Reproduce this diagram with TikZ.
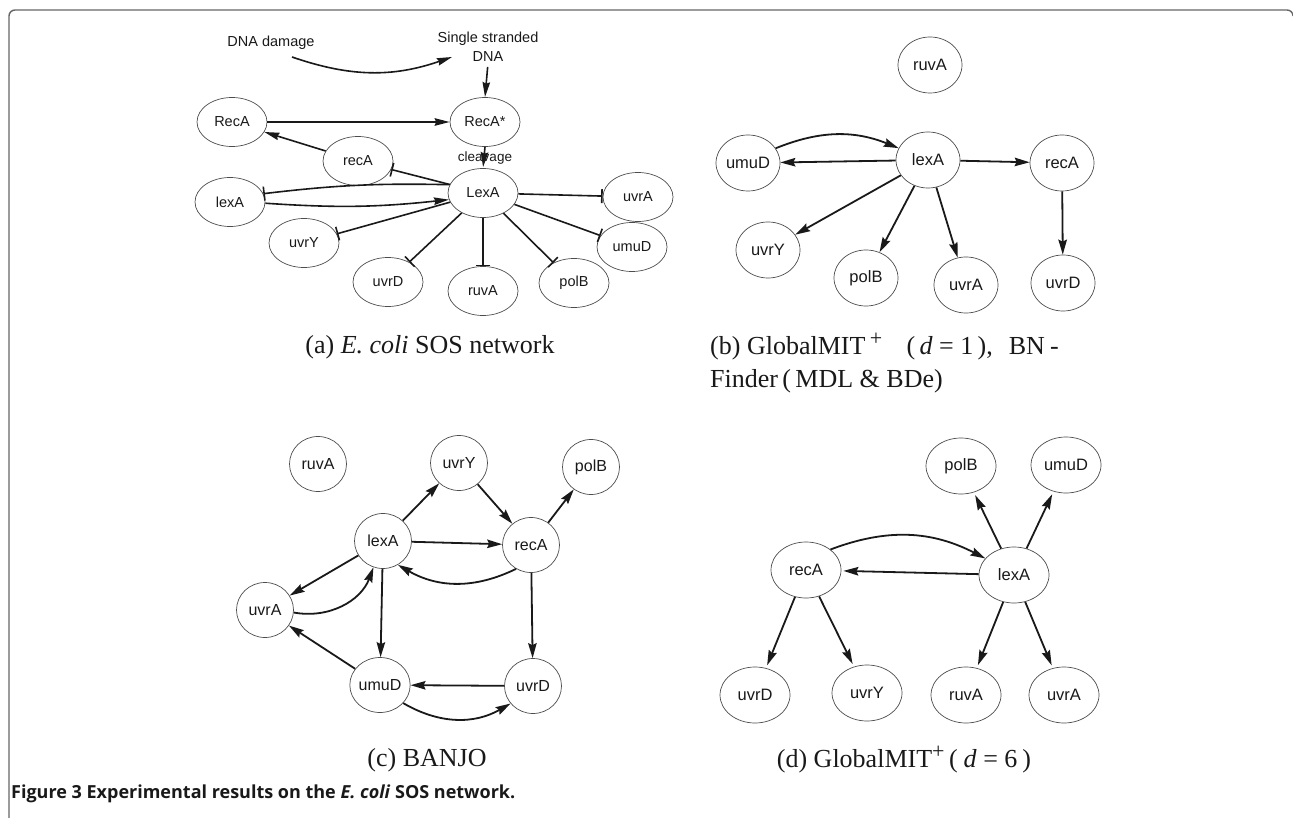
\documentclass[tikz,border=0pt]{standalone}
\usepackage{fontspec}
\setmainfont{Liberation Serif}
\setsansfont{Liberation Sans}
\newfontfamily\figcapfont{Open Sans}
\usetikzlibrary{arrows.meta,shapes.geometric}

\tikzset{
  gene/.style={ellipse, draw=black!70, line width=0.7pt, inner sep=0pt, text=black!90},
  anode/.style={gene, minimum width=70pt, minimum height=49pt, font=\sffamily\fontsize{14.5}{16}\selectfont},
  bnode/.style={gene, minimum width=64pt, minimum height=56pt, font=\sffamily\fontsize{16.5}{18}\selectfont},
  cnode/.style={gene, minimum width=57pt, minimum height=55pt, font=\sffamily\fontsize{16}{18}\selectfont},
  dnode/.style={gene, minimum width=70pt, minimum height=56pt, font=\sffamily\fontsize{16.5}{18}\selectfont},
  plain/.style={font=\sffamily\fontsize{14.5}{19}\selectfont, text=black!90, inner sep=1pt},
  act/.style={line width=1.8pt, draw=black!90, -{Stealth[length=15pt,width=8.5pt,inset=2pt]}},
  acta/.style={line width=1.6pt, draw=black!90, -{Stealth[length=15pt,width=7.5pt,inset=1.5pt]}},
  inh/.style={line width=1.6pt, draw=black!90, -{Bar[width=14pt]}},
  sub/.style={font=\fontsize{26}{34}\selectfont, text=black!90, inner sep=0pt},
}
\newcommand{\supplus}{\textsuperscript{\fontsize{22}{22}\selectfont +}}

\begin{document}
\begin{tikzpicture}[x=1pt,y=1pt]
\useasboundingbox (0,0) rectangle (1293,-818);

% outer frame, open at the bottom
\draw[black!60, line width=1.4pt] (9,-818) -- (9,-16) arc[start angle=180,end angle=90,radius=6]
  -- (1287,-10) arc[start angle=90,end angle=0,radius=6];

% ---------------- (a) E. coli SOS network ----------------
\node[plain] (dmg) at (271,-43) {DNA damage};
\node[plain, align=center] (ss) at (488,-47) {Single stranded\\DNA};
\coordinate (dmgout) at (292,-57);
\coordinate (ssin) at (452,-57);
\draw[acta] (dmgout) to[bend right=19] (ssin);

\node[anode] (RecA) at (232,-122) {RecA};
\node[anode] (RecAs) at (485,-122) {RecA*};
\node[anode] (recAa) at (358,-161) {recA};
\node[anode] (LexA) at (483,-193) {LexA};
\node[anode] (lexAa) at (230,-202) {lexA};
\node[anode] (uvrAa) at (638,-197) {uvrA};
\node[anode] (umuDa) at (632,-247) {umuD};
\node[anode] (uvrYa) at (304,-243) {uvrY};
\node[anode] (uvrDa) at (388,-282) {uvrD};
\node[anode] (ruvAa) at (483,-291) {ruvA};
\node[anode] (polBa) at (574,-283) {polB};
\node[plain, font=\sffamily\fontsize{13.5}{15}\selectfont] (clv) at (485,-158) {cleavage};

\draw[acta, shorten <=4pt] (ss.south) -- (RecAs.north);
\draw[acta] (RecA) -- (RecAs);
\draw[acta] (recAa) -- (RecA);
\draw[acta, shorten >=1pt] (RecAs.south) -- (LexA.north);
\draw[inh] (LexA) -- (recAa);
\draw[inh] (LexA.166) to[bend right=4] (lexAa.14);
\draw[acta] (lexAa.358) to[bend right=5] (LexA.191);
\draw[inh] (LexA) -- (uvrAa);
\draw[inh] (LexA) -- (umuDa);
\draw[inh] (LexA) -- (uvrYa);
\draw[inh] (LexA) -- (uvrDa);
\draw[inh] (LexA) -- (ruvAa);
\draw[inh] (LexA) -- (polBa);

\node[sub] (capa) at (430,-347) {(a) \textit{E. coli} SOS network};

% ---------------- (b) GlobalMIT+ (d = 1), BNFinder ----------------
\node[bnode] (ruvAb) at (930,-65) {ruvA};
\node[bnode] (umuDb) at (748,-163) {umuD};
\node[bnode] (lexAb) at (928,-160) {lexA};
\node[bnode] (recAb) at (1062,-163) {recA};
\node[bnode] (uvrYb) at (768,-250) {uvrY};
\node[bnode] (polBb) at (866,-278) {polB};
\node[bnode] (uvrAb) at (966,-285) {uvrA};
\node[bnode] (uvrDb) at (1063,-283) {uvrD};

\draw[act] (umuDb.28) to[bend left=22] (lexAb.158);
\draw[act] (lexAb) -- (umuDb);
\draw[act] (lexAb) -- (recAb);
\draw[act] (lexAb) -- (uvrYb);
\draw[act] (lexAb) -- (polBb);
\draw[act] (lexAb) -- (uvrAb);
\draw[act] (recAb) -- (uvrDb);

\node[sub, anchor=west] (capb1) at (710,-347) {(b) GlobalMIT\,\supplus\hspace{24pt}(\,\textit{d} = 1\,),\hspace{16pt}BN\hspace{5pt}-};
\node[sub, anchor=west] (capb2) at (710,-381) {Finder\,(\,MDL \& BDe)};

% ---------------- (c) BANJO ----------------
\node[cnode] (ruvAc) at (318,-464) {ruvA};
\node[cnode] (uvrYc) at (459,-463) {uvrY};
\node[cnode] (polBc) at (591,-467) {polB};
\node[cnode] (lexAc) at (383,-541) {lexA};
\node[cnode] (recAc) at (531,-545) {recA};
\node[cnode] (uvrAc) at (265,-610) {uvrA};
\node[cnode] (umuDc) at (380,-685) {umuD};
\node[cnode] (uvrDc) at (533,-686) {uvrD};

\draw[act] (lexAc) -- (uvrYc);
\draw[act] (uvrYc) -- (recAc);
\draw[act] (recAc) -- (polBc);
\draw[act] (lexAc) -- (recAc);
\draw[act] (recAc.238) to[bend left=28] (lexAc.302);
\draw[act] (lexAc) -- (uvrAc);
\draw[act] (uvrAc.355) to[bend right=40] (lexAc.250);
\draw[act] (lexAc) -- (umuDc);
\draw[act] (recAc) -- (uvrDc);
\draw[act] (umuDc) -- (uvrAc);
\draw[act] (uvrDc) -- (umuDc);
\draw[act] (umuDc.322) to[bend right=30] (uvrDc.218);

\node[sub] (capc) at (427,-760) {(c) BANJO};

% ---------------- (d) GlobalMIT+ (d = 6) ----------------
\node[dnode] (polBd) at (961,-466) {polB};
\node[dnode] (umuDd) at (1066,-465) {umuD};
\node[dnode] (recAd) at (806,-570) {recA};
\node[dnode] (lexAd) at (1014,-575) {lexA};
\node[dnode] (uvrDd) at (755,-695) {uvrD};
\node[dnode] (uvrYd) at (867,-693) {uvrY};
\node[dnode] (ruvAd) at (966,-695) {ruvA};
\node[dnode] (uvrAd) at (1064,-695) {uvrA};

\draw[act] (recAd.40) to[bend left=24] (lexAd.150);
\draw[act, shorten >=2pt] (lexAd) -- (recAd);
\draw[act, shorten >=3pt] (lexAd) -- (polBd);
\draw[act, shorten >=3pt] (lexAd) -- (umuDd);
\draw[act, shorten >=3pt] (recAd) -- (uvrDd);
\draw[act, shorten >=3pt] (recAd) -- (uvrYd);
\draw[act, shorten >=3pt] (lexAd) -- (ruvAd);
\draw[act, shorten >=3pt] (lexAd) -- (uvrAd);

\node[sub] (capd) at (904,-760) {(d) GlobalMIT\supplus\hspace{4pt}(\hspace{6pt}\textit{d} = 6\hspace{5pt})};

% ---------------- figure caption ----------------
\node[anchor=west, inner sep=0pt, font=\figcapfont\bfseries\fontsize{18}{20}\selectfont, text=black!90] (figcap) at (11,-794)
  {Figure 3 Experimental results on the \textit{E. coli} SOS network.};
\end{tikzpicture}
\end{document}
